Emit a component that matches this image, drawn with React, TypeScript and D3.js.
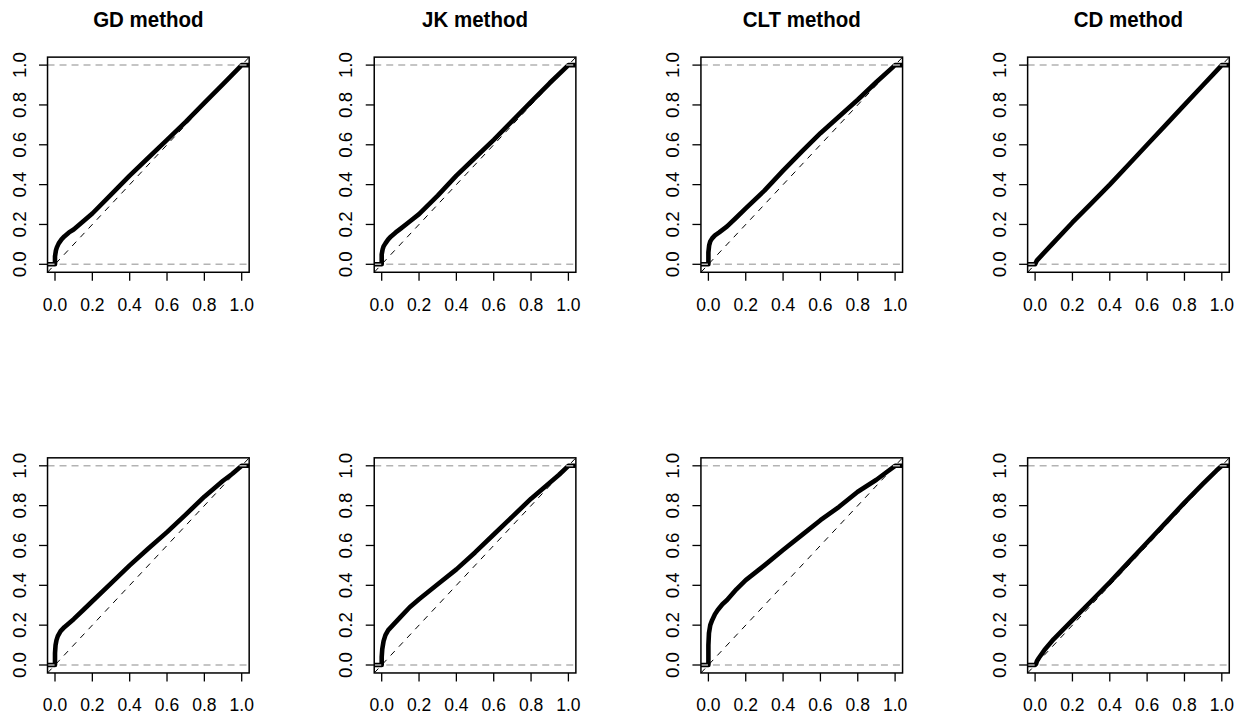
import React from "react";
import * as d3 from "d3";

type Pt = [number, number];

const methods: string[] = ["GD method", "JK method", "CLT method", "CD method"];
const tickValues: number[] = [0, 0.2, 0.4, 0.6, 0.8, 1.0];
const tickLabels: string[] = ["0.0", "0.2", "0.4", "0.6", "0.8", "1.0"];

// Top row ECDF curves (x, F(x))
const gdTop: Pt[] = [[0,0],[0,0.04],[0.005,0.07],[0.01,0.085],[0.02,0.105],[0.035,0.125],[0.05,0.14],[0.075,0.16],[0.1,0.175],[0.15,0.215],[0.2,0.255],[0.3,0.35],[0.4,0.445],[0.5,0.535],[0.6,0.625],[0.7,0.715],[0.8,0.81],[0.9,0.905],[1,1]];
const jkTop: Pt[] = [[0,0],[0,0.05],[0.005,0.075],[0.01,0.09],[0.02,0.105],[0.035,0.125],[0.05,0.14],[0.075,0.16],[0.1,0.178],[0.15,0.215],[0.2,0.252],[0.3,0.345],[0.4,0.445],[0.5,0.535],[0.6,0.625],[0.7,0.72],[0.8,0.815],[0.9,0.91],[1,1]];
const cltTop: Pt[] = [[0,0],[0,0.06],[0.004,0.095],[0.01,0.115],[0.02,0.13],[0.035,0.145],[0.058,0.16],[0.1,0.19],[0.15,0.235],[0.2,0.281],[0.3,0.37],[0.4,0.47],[0.5,0.566],[0.6,0.658],[0.7,0.742],[0.8,0.826],[0.9,0.915],[1,1]];
const cdTop: Pt[] = [[0,0],[0.005,0.01],[0.01,0.02],[0.03,0.04],[0.1,0.11],[0.2,0.21],[0.3,0.305],[0.4,0.4],[0.5,0.5],[0.6,0.6],[0.7,0.7],[0.8,0.8],[0.9,0.9],[0.97,0.97],[1,1]];

// Bottom row ECDF curves
const gdBottom: Pt[] = [[0,0],[0,0.06],[0.003,0.1],[0.008,0.125],[0.015,0.145],[0.03,0.17],[0.05,0.19],[0.075,0.21],[0.1,0.23],[0.15,0.275],[0.2,0.32],[0.3,0.41],[0.4,0.5],[0.5,0.585],[0.6,0.667],[0.7,0.755],[0.8,0.845],[0.9,0.925],[0.95,0.96],[1,1]];
const jkBottom: Pt[] = [[0,0],[0,0.04],[0.003,0.08],[0.01,0.12],[0.02,0.15],[0.035,0.175],[0.05,0.19],[0.075,0.215],[0.1,0.24],[0.15,0.29],[0.2,0.33],[0.3,0.405],[0.4,0.48],[0.5,0.565],[0.6,0.655],[0.7,0.745],[0.8,0.835],[0.9,0.915],[0.95,0.955],[1,1]];
const cltBottom: Pt[] = [[0,0],[0,0.1],[0.003,0.16],[0.01,0.2],[0.02,0.225],[0.035,0.255],[0.05,0.276],[0.075,0.305],[0.1,0.326],[0.15,0.38],[0.2,0.426],[0.3,0.5],[0.4,0.577],[0.5,0.652],[0.6,0.727],[0.7,0.794],[0.8,0.87],[0.9,0.93],[0.95,0.965],[1,1]];
const cdBottom: Pt[] = [[0,0],[0.005,0.005],[0.01,0.02],[0.02,0.035],[0.05,0.075],[0.1,0.13],[0.2,0.225],[0.3,0.32],[0.4,0.415],[0.5,0.515],[0.6,0.615],[0.7,0.715],[0.8,0.815],[0.9,0.91],[0.97,0.975],[1,1]];

const topRow: Pt[][] = [gdTop, jkTop, cltTop, cdTop];
const bottomRow: Pt[][] = [gdBottom, jkBottom, cltBottom, cdBottom];

const domain: [number, number] = [-0.04, 1.04];
const FONT = "'Liberation Sans', Arial, sans-serif";
const VS = 1.066; // vertical stretch of text

function Panel({ data, col, row, title }: { data: Pt[]; col: number; row: number; title?: string }) {
  const x0 = 55 + 326.7 * col;
  const unitX = 186.7;
  const y0 = row === 0 ? 264.3 : 665;
  const unitY = 199.2;
  const x = d3.scaleLinear().domain([0, 1]).range([x0, x0 + unitX]);
  const y = d3.scaleLinear().domain([0, 1]).range([y0, y0 - unitY]);
  const left = x(domain[0]);
  const right = x(domain[1]);
  const top = y(domain[1]);
  const bottom = y(domain[0]);
  const clipId = `clip-${row}-${col}`;
  const full: Pt[] = [[domain[0], 0], ...data, [domain[1], 1]];
  const line = d3.line<Pt>().x((d) => x(d[0])).y((d) => y(d[1])).curve(d3.curveLinear);
  const diag = line([[domain[0], domain[0]], [domain[1], domain[1]]]) || "";
  return (
    <g>
      <defs>
        <clipPath id={clipId}>
          <rect x={left} y={top} width={right - left} height={bottom - top} />
        </clipPath>
      </defs>
      <g clipPath={`url(#${clipId})`}>
        <path d={line(full) || ""} fill="none" stroke="#000" strokeWidth={4.6} strokeLinejoin="round" strokeLinecap="butt" />
        <path d={diag} fill="none" stroke="#000" strokeWidth={1} strokeDasharray="6,6" />
        {[0, 1].map((v) => (
          <line key={v} x1={left} x2={right} y1={y(v)} y2={y(v)} stroke="#b3b3b3" strokeWidth={1.5} strokeDasharray="7,5" />
        ))}
      </g>
      <rect x={left} y={top} width={right - left} height={bottom - top} fill="none" stroke="#000" strokeWidth={1.5} />
      {tickValues.map((t, i) => (
        <g key={`x${i}`}>
          <line x1={x(t)} x2={x(t)} y1={bottom} y2={bottom + 8.5} stroke="#000" strokeWidth={1.3} />
          <text
            transform={`translate(${x(t)},${bottom + 38.5}) scale(1,${VS})`}
            textAnchor="middle"
            fontFamily={FONT}
            fontSize={17.5}
            fill="#000"
          >
            {tickLabels[i]}
          </text>
        </g>
      ))}
      {tickValues.map((t, i) => (
        <g key={`y${i}`}>
          <line x1={left - 8.5} x2={left} y1={y(t)} y2={y(t)} stroke="#000" strokeWidth={1.3} />
          <text
            transform={`translate(${left - 22},${y(t)}) scale(1,${VS}) rotate(-90)`}
            textAnchor="middle"
            fontFamily={FONT}
            fontSize={17.5}
            fill="#000"
          >
            {tickLabels[i]}
          </text>
        </g>
      ))}
      {title && (
        <text
          transform={`translate(${(left + right) / 2},${26.7}) scale(1,${VS})`}
          textAnchor="middle"
          fontFamily={FONT}
          fontWeight="bold"
          fontSize={20.5}
          fill="#000"
        >
          {title}
        </text>
      )}
    </g>
  );
}

export default function App() {
  return (
    <svg
      width={1244}
      height={717}
      style={{ position: "absolute", left: 0, top: 0, background: "#fff" }}
    >
      <rect x={0} y={0} width={1244} height={717} fill="#fff" />
      {topRow.map((d, i) => (
        <Panel key={`t${i}`} data={d} col={i} row={0} title={methods[i]} />
      ))}
      {bottomRow.map((d, i) => (
        <Panel key={`b${i}`} data={d} col={i} row={1} />
      ))}
    </svg>
  );
}
